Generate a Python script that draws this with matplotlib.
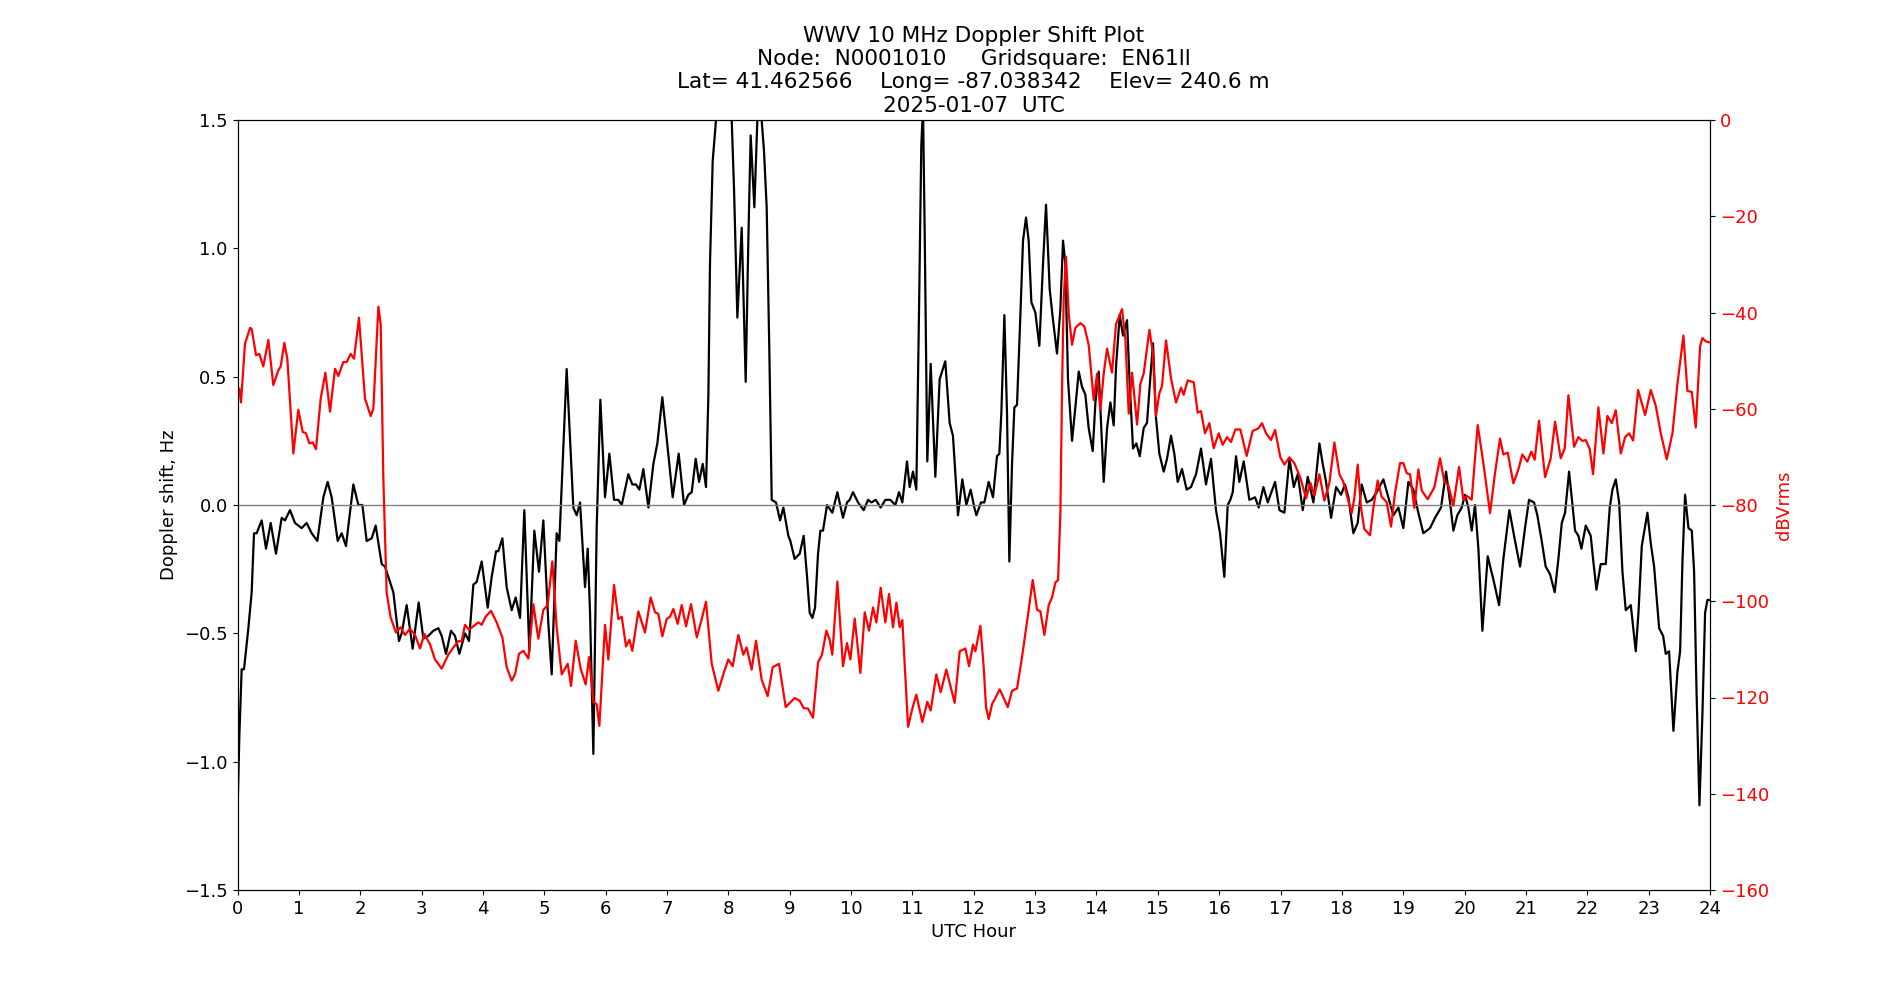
import matplotlib
matplotlib.use("Agg")
import matplotlib.pyplot as plt

plt.rcParams['font.size'] = 13

# Doppler shift (black), hours / Hz
dop_hours = [0.0, 0.03, 0.068, 0.106, 0.177, 0.231, 0.269, 0.312, 0.394, 0.465, 0.541, 0.627, 0.720, 0.774, 0.856, 0.937,
             1.046, 1.127, 1.209, 1.301, 1.399, 1.469, 1.535, 1.633, 1.698, 1.768, 1.888, 1.970, 2.035, 2.105, 2.187, 2.252,
             2.350, 2.404, 2.486, 2.540, 2.632, 2.676, 2.757, 2.855, 2.953,
             3.029, 3.11, 3.192, 3.274, 3.328, 3.398, 3.480, 3.545, 3.616, 3.708, 3.773, 3.844, 3.898, 3.980, 4.078, 4.143,
             4.214, 4.252, 4.317, 4.387, 4.469, 4.534, 4.605, 4.675, 4.757, 4.838, 4.914, 4.985, 5.066, 5.121, 5.202, 5.246,
             5.300, 5.365, 5.420, 5.474, 5.528, 5.583, 5.664, 5.708, 5.746, 5.800, 5.854, 5.914,
             5.990, 6.061, 6.137, 6.207, 6.262, 6.370, 6.435, 6.495, 6.550, 6.615, 6.697, 6.778, 6.843, 6.924, 6.995, 7.093,
             7.191, 7.278, 7.349, 7.403, 7.468, 7.523, 7.582, 7.636, 7.675, 7.701, 7.745, 7.799, 7.919, 8.055, 8.093, 8.147,
             8.218, 8.283, 8.326, 8.364, 8.424, 8.473, 8.51, 8.543, 8.581, 8.625, 8.669, 8.707, 8.777, 8.843, 8.897, 8.978,
             9.011, 9.081, 9.163, 9.228, 9.283, 9.326, 9.370, 9.413, 9.462, 9.500, 9.543, 9.609, 9.695, 9.777, 9.869, 9.934,
             9.978, 10.032, 10.114, 10.206, 10.277, 10.331, 10.402, 10.483, 10.559, 10.640, 10.722, 10.782, 10.836, 10.912,
             10.955, 11.010, 11.064, 11.107, 11.145, 11.173, 11.200, 11.243, 11.298, 11.374, 11.444, 11.536, 11.607, 11.661,
             11.743, 11.814, 11.879, 11.949,
             12.010, 12.043, 12.118, 12.173, 12.243, 12.314, 12.379, 12.417, 12.450, 12.499, 12.542, 12.580, 12.624, 12.662,
             12.705, 12.760, 12.803, 12.852, 12.895, 12.939, 13.004, 13.069, 13.129, 13.178, 13.238, 13.292, 13.357, 13.411,
             13.455, 13.493, 13.536, 13.602, 13.656, 13.711, 13.765, 13.819, 13.873, 13.939, 13.983, 14.037, 14.075, 14.118,
             14.173, 14.227, 14.281, 14.319, 14.379, 14.433, 14.498, 14.542, 14.596, 14.651, 14.705, 14.770, 14.824, 14.879,
             14.922,
             14.970, 15.025, 15.096, 15.150, 15.215, 15.269, 15.324, 15.394, 15.470, 15.541, 15.623, 15.704, 15.785, 15.867,
             15.948, 16.014, 16.084, 16.139, 16.182, 16.221, 16.275, 16.329, 16.400, 16.492, 16.585, 16.645, 16.721, 16.792,
             16.911, 16.982, 17.063, 17.145, 17.216, 17.281, 17.362, 17.444, 17.536, 17.634, 17.688, 17.742, 17.824, 17.906,
             17.986, 18.051, 18.106, 18.187, 18.258, 18.323, 18.405, 18.486, 18.568, 18.676, 18.758, 18.839, 18.921, 19.002,
             19.084, 19.165, 19.236, 19.328, 19.437, 19.518, 19.616, 19.698, 19.763, 19.817, 19.882, 19.953, 20.007, 20.061,
             20.116, 20.170, 20.225, 20.290, 20.377, 20.469, 20.562, 20.632, 20.730, 20.822, 20.904,
             20.985, 21.050, 21.132, 21.186, 21.257, 21.322, 21.393, 21.469, 21.529, 21.584, 21.638, 21.703, 21.746, 21.801,
             21.855, 21.904, 21.975, 22.056, 22.094, 22.149, 22.219, 22.301, 22.366, 22.410, 22.464, 22.519, 22.573, 22.627,
             22.709, 22.790, 22.834, 22.888, 22.980, 23.035, 23.089, 23.171, 23.236, 23.279, 23.333, 23.404, 23.469, 23.513,
             23.551, 23.594, 23.649, 23.703, 23.741, 23.779, 23.828, 23.877, 23.920, 23.958, 24.0]
dop_hz = [-1.20, -0.90, -0.64, -0.64, -0.48, -0.34, -0.11, -0.11, -0.06, -0.17, -0.07, -0.19, -0.05, -0.06, -0.02, -0.07,
          -0.09, -0.07, -0.11, -0.14, 0.03, 0.09, 0.03, -0.14, -0.11, -0.16, 0.08, 0.0, 0.0, -0.14, -0.13, -0.08,
          -0.23, -0.24, -0.30, -0.34, -0.53, -0.50, -0.39, -0.56, -0.38,
          -0.52, -0.51, -0.49, -0.48, -0.51, -0.58, -0.49, -0.51, -0.58, -0.50, -0.53, -0.31, -0.30, -0.22, -0.40, -0.28,
          -0.18, -0.18, -0.13, -0.32, -0.41, -0.36, -0.44, -0.02, -0.57, -0.10, -0.26, -0.06, -0.46, -0.66, -0.11, -0.14,
          0.16, 0.53, 0.26, -0.01, -0.04, 0.01, -0.32, -0.17, -0.42, -0.97, -0.09, 0.41,
          0.03, 0.20, 0.02, 0.02, 0.0, 0.12, 0.08, 0.08, 0.06, 0.14, -0.01, 0.16, 0.24, 0.42, 0.26, 0.03,
          0.20, 0.0, 0.04, 0.05, 0.18, 0.09, 0.16, 0.07, 0.43, 0.94, 1.34, 1.50, 2.0, 1.50, 1.23, 0.73,
          1.08, 0.48, 1.03, 1.44, 1.16, 1.5, 1.8, 1.5, 1.38, 1.16, 0.59, 0.02, 0.01, -0.06, -0.01, -0.12,
          -0.14, -0.21, -0.19, -0.12, -0.28, -0.42, -0.44, -0.40, -0.19, -0.10, -0.10, 0.0, -0.03, 0.05, -0.05, 0.01,
          0.02, 0.05, 0.01, -0.02, 0.02, 0.01, 0.02, -0.01, 0.02, 0.02, 0.0, 0.05, 0.01, 0.17,
          0.07, 0.13, 0.06, 0.74, 1.40, 1.55, 1.07, 0.17, 0.55, 0.11, 0.49, 0.56, 0.32, 0.27,
          -0.04, 0.10, 0.0, 0.06,
          -0.01, -0.04, 0.01, 0.01, 0.09, 0.03, 0.19, 0.20, 0.36, 0.74, 0.36, -0.22, 0.16, 0.38,
          0.39, 0.74, 1.03, 1.12, 1.03, 0.79, 0.75, 0.62, 0.94, 1.17, 0.84, 0.72, 0.59, 0.76,
          1.03, 0.94, 0.49, 0.25, 0.38, 0.52, 0.46, 0.43, 0.30, 0.21, 0.40, 0.52, 0.32, 0.09,
          0.30, 0.40, 0.31, 0.54, 0.74, 0.66, 0.72, 0.47, 0.22, 0.24, 0.19, 0.30, 0.32, 0.50,
          0.63,
          0.34, 0.20, 0.13, 0.18, 0.27, 0.20, 0.09, 0.14, 0.06, 0.07, 0.12, 0.22, 0.08, 0.18,
          -0.02, -0.11, -0.28, 0.0, 0.02, 0.05, 0.19, 0.09, 0.17, 0.02, 0.03, -0.01, 0.07, 0.01,
          0.09, -0.02, -0.03, 0.18, 0.07, 0.12, -0.02, 0.11, 0.01, 0.24, 0.16, 0.09, -0.05, 0.07,
          0.04, 0.08, 0.03, -0.11, -0.07, 0.08, 0.01, 0.02, 0.05, 0.10, 0.03, -0.04, -0.01, -0.09,
          0.09, 0.06, -0.02, -0.11, -0.09, -0.05, -0.01, 0.13, 0.01, -0.10, -0.04, -0.01, 0.04, -0.01,
          -0.10, 0.0, -0.17, -0.49, -0.20, -0.29, -0.39, -0.21, -0.02, -0.14, -0.24,
          -0.09, 0.02, 0.01, -0.04, -0.14, -0.24, -0.27, -0.34, -0.21, -0.07, -0.03, 0.13, 0.03, -0.10,
          -0.12, -0.17, -0.08, -0.12, -0.21, -0.33, -0.23, -0.23, -0.01, 0.06, 0.10, 0.01, -0.26, -0.41,
          -0.39, -0.57, -0.42, -0.16, -0.03, -0.15, -0.24, -0.48, -0.51, -0.58, -0.57, -0.88, -0.65, -0.57,
          -0.22, 0.04, -0.09, -0.10, -0.26, -0.71, -1.17, -0.81, -0.42, -0.37, -0.37]

# Received power (red), hours / dBVrms
pwr_hours = [0.0, 0.030, 0.057, 0.122, 0.204, 0.231, 0.302, 0.356, 0.421, 0.503, 0.584, 0.666, 0.704, 0.763, 0.812, 0.910,
             0.991, 1.062, 1.116, 1.171, 1.225, 1.279, 1.356, 1.432, 1.508, 1.589, 1.643, 1.725, 1.780, 1.845, 1.899, 1.980,
             2.078, 2.171, 2.214, 2.296, 2.334, 2.377, 2.431, 2.496, 2.583, 2.659, 2.730, 2.811, 2.893,
             2.975, 3.046, 3.139, 3.219, 3.328, 3.436, 3.518, 3.600, 3.654, 3.708, 3.773, 3.844, 3.925, 3.980, 4.045, 4.132,
             4.224, 4.317, 4.387, 4.469, 4.523, 4.589, 4.659, 4.741, 4.822, 4.903, 4.985, 5.055, 5.131, 5.202, 5.284, 5.382,
             5.436, 5.512, 5.593, 5.675, 5.730, 5.800, 5.854, 5.898,
             5.990, 6.044, 6.137, 6.207, 6.262, 6.333, 6.387, 6.435, 6.533, 6.642, 6.734, 6.805, 6.859, 6.924, 6.995, 7.050,
             7.104, 7.174, 7.240, 7.311, 7.392, 7.485, 7.566, 7.636, 7.729, 7.837, 7.930, 8.000, 8.071, 8.163, 8.245, 8.299,
             8.380, 8.451, 8.543, 8.641, 8.723, 8.826, 8.935,
             9.011, 9.081, 9.163, 9.228, 9.299, 9.380, 9.462, 9.527, 9.598, 9.652, 9.695, 9.777, 9.869, 9.934, 9.989, 10.060,
             10.152, 10.223, 10.293, 10.359, 10.413, 10.483, 10.559, 10.619, 10.684, 10.739, 10.793, 10.836, 10.929, 10.999,
             11.064, 11.162, 11.243, 11.298, 11.390, 11.461, 11.553, 11.624, 11.689, 11.771, 11.863, 11.923,
             11.988, 12.026, 12.108, 12.162, 12.200, 12.244, 12.298, 12.352, 12.423, 12.488, 12.554, 12.624, 12.706, 12.787,
             12.880, 12.961, 13.032, 13.086, 13.151, 13.222, 13.277, 13.331, 13.374, 13.412, 13.439, 13.466, 13.504, 13.548,
             13.602, 13.656, 13.738, 13.803, 13.874, 13.955, 14.010, 14.064, 14.118, 14.173, 14.254, 14.319, 14.417, 14.471,
             14.526, 14.580, 14.662, 14.716, 14.770, 14.863, 14.917,
             14.970, 15.025, 15.068, 15.134, 15.215, 15.297, 15.378, 15.422, 15.487, 15.585, 15.650, 15.704, 15.769, 15.840,
             15.911, 15.992, 16.057, 16.128, 16.193, 16.264, 16.345, 16.448, 16.546, 16.638, 16.698, 16.764, 16.845, 16.911,
             16.997, 17.063, 17.145, 17.226, 17.324, 17.417, 17.487, 17.552, 17.634, 17.715, 17.797, 17.878, 17.960,
             18.024, 18.094, 18.160, 18.203, 18.258, 18.312, 18.366, 18.459, 18.513, 18.584, 18.649, 18.730, 18.801, 18.866,
             18.948, 19.002, 19.057, 19.111, 19.182, 19.247, 19.301, 19.399, 19.508, 19.600, 19.671, 19.736, 19.817, 19.910,
             19.980, 20.035, 20.116, 20.214, 20.306, 20.415, 20.496, 20.578, 20.632, 20.703, 20.795, 20.877,
             20.941, 21.022, 21.088, 21.142, 21.213, 21.312, 21.404, 21.475, 21.567, 21.633, 21.692, 21.785, 21.855, 21.920,
             21.975, 22.040, 22.094, 22.181, 22.263, 22.328, 22.399, 22.464, 22.546, 22.616, 22.682, 22.747, 22.828, 22.942,
             23.035, 23.116, 23.198, 23.295, 23.388, 23.469, 23.567, 23.632, 23.703, 23.768, 23.839, 23.877, 23.931, 23.996]
pwr_dbv = [-57.5, -55.8, -58.7, -46.5, -43.2, -43.4, -48.9, -48.6, -51.2, -45.7, -55.1, -52.0, -51.2, -46.3, -49.6, -69.3,
           -60.2, -64.8, -65.1, -67.2, -67.0, -68.4, -57.9, -52.5, -60.6, -51.7, -53.2, -50.3, -50.3, -48.6, -49.6, -41.1,
           -57.9, -61.5, -60.0, -38.8, -42.4, -74.4, -98.2, -103.4, -106.5, -105.4, -107.0, -105.7, -107.0,
           -109.8, -106.8, -109.0, -112.1, -114.0, -111.1, -109.6, -108.3, -108.3, -104.9, -105.9, -105.2, -104.4, -104.9,
           -103.2, -102.0, -104.4, -107.5, -113.7, -116.5, -115.2, -110.9, -110.3, -111.9, -100.6, -107.8, -101.8, -100.8,
           -91.7, -105.4, -115.2, -113.0, -117.6, -108.2, -114.0, -117.3, -111.6, -120.9, -121.4, -125.9,
           -104.9, -112.1, -96.6, -103.7, -103.2, -109.4, -108.0, -110.3, -102.1, -106.5, -99.2, -102.3, -102.6, -107.3,
           -103.7, -103.2, -101.6, -104.7, -100.8, -105.2, -100.6, -107.5, -103.7, -100.1, -113.0, -118.6, -114.7, -112.1,
           -113.5, -107.0, -111.1, -109.6, -114.2, -108.2, -116.3, -119.7, -113.7, -113.0, -122.0,
           -121.0, -120.1, -120.7, -122.2, -122.3, -124.2, -112.7, -111.1, -106.1, -108.0, -111.1, -95.9, -113.5, -108.7,
           -112.1, -103.6, -114.9, -102.3, -106.1, -101.3, -104.4, -97.2, -104.4, -98.5, -105.4, -100.3, -105.4, -103.9,
           -126.1, -122.3, -119.4, -125.1, -120.9, -122.7, -115.2, -118.9, -114.2, -117.8, -121.1, -110.4, -109.8, -113.5,
           -109.0, -110.4, -105.1, -113.7, -122.0, -124.5, -121.4, -120.1, -118.3, -120.1, -122.0, -118.6, -118.1, -111.6,
           -103.2, -95.6, -101.8, -102.1, -107.0, -100.8, -99.2, -96.1, -95.6, -81.7, -55.8, -37.2, -28.4, -40.3,
           -46.7, -43.2, -42.2, -42.9, -46.8, -58.2, -52.7, -60.3, -52.7, -47.5, -52.5, -42.4, -39.3, -45.5,
           -61.0, -52.5, -63.3, -54.8, -52.7, -43.6, -48.1,
           -61.5, -56.8, -55.3, -45.8, -53.7, -58.7, -55.6, -57.1, -54.1, -54.5, -60.8, -60.5, -65.1, -63.0,
           -68.2, -65.1, -67.5, -65.9, -66.9, -64.3, -64.3, -69.8, -64.6, -64.1, -63.0, -65.1, -66.5, -64.4,
           -70.1, -71.6, -70.1, -71.3, -74.4, -78.6, -75.4, -78.0, -73.6, -79.1, -75.4, -67.0, -73.6,
           -75.2, -78.6, -81.7, -78.6, -71.6, -80.6, -85.0, -86.3, -80.6, -74.9, -78.3, -79.4, -84.5, -77.5,
           -71.3, -71.3, -73.4, -73.6, -80.6, -72.6, -77.0, -78.8, -76.3, -70.3, -75.2, -75.9, -80.1, -72.1,
           -78.9, -78.1, -78.9, -63.4, -71.3, -81.7, -73.4, -66.2, -69.5, -69.1, -75.5, -72.6,
           -69.5, -71.0, -68.9, -70.6, -62.5, -74.2, -70.3, -62.7, -70.3, -68.2, -57.2, -67.9, -65.9, -66.7,
           -66.5, -68.4, -73.6, -59.7, -69.3, -61.5, -63.0, -60.3, -69.3, -65.9, -65.1, -66.6, -56.1, -61.3,
           -56.1, -59.4, -65.1, -70.5, -65.1, -54.8, -44.8, -56.3, -56.5, -63.9, -47.0, -45.3, -46.0, -46.2]

title_lines = ["WWV 10 MHz Doppler Shift Plot",
               "Node:  N0001010     Gridsquare:  EN61ll",
               "Lat= 41.462566    Long= -87.038342    Elev= 240.6 m",
               "2025-01-07  UTC"]

fig = plt.figure(figsize=(19, 10), dpi=100)
ax = fig.add_subplot(111)
ax.plot(dop_hours, dop_hz, color='black', lw=1.6)
ax.axhline(0, color='#808080', lw=1)
ax.set_xlim(0, 24)
ax.set_ylim(-1.5, 1.5)
ax.set_xticks(range(0, 25))
ax.set_yticks([-1.5, -1.0, -0.5, 0.0, 0.5, 1.0, 1.5])
ax.set_xlabel("UTC Hour")
ax.set_ylabel("Doppler shift, Hz")
ax.set_title("\n".join(title_lines), fontsize=15.6)

ax2 = ax.twinx()
ax2.plot(pwr_hours, pwr_dbv, color='red', lw=1.6)
ax2.set_ylim(-160, 0)
ax2.set_yticks(range(-160, 1, 20))
ax2.set_ylabel("dBVrms", color='red')
ax2.tick_params(axis='y', labelcolor='red')

fig.savefig("out.png", dpi=100)
